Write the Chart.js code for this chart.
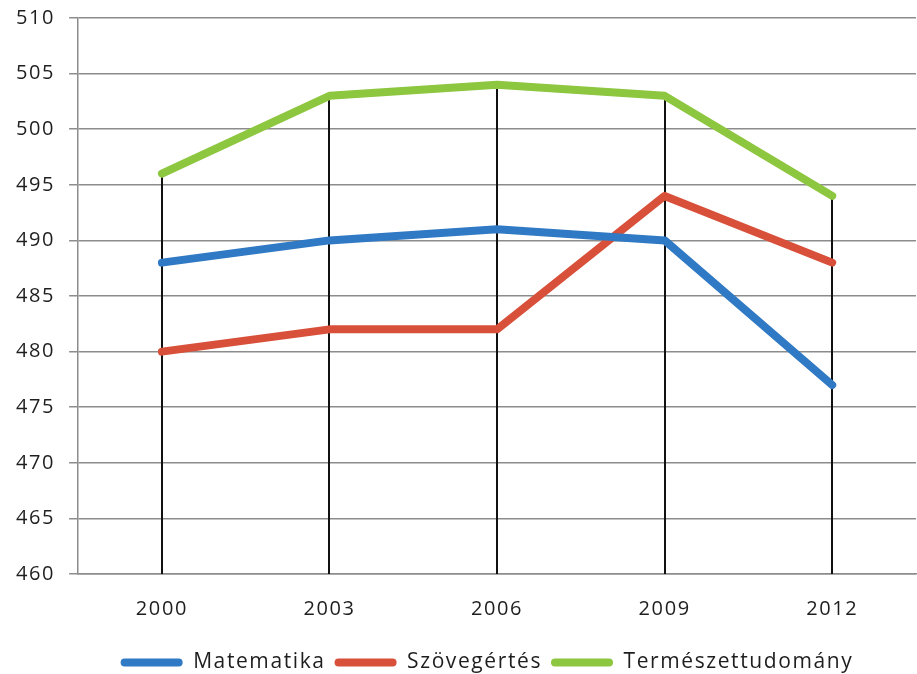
<!DOCTYPE html>
<html>
<head>
<meta charset="utf-8">
<script src="https://cdn.jsdelivr.net/npm/chart.js@4/dist/chart.umd.min.js"></script>
<style>
  html, body { margin: 0; padding: 0; background: #ffffff; }
  #wrap { width: 917px; height: 674px; }
</style>
</head>
<body>
<div id="wrap"><canvas id="c" width="917" height="674"></canvas></div>
<script>
// PISA-eredmények évenként
const years = ['2000', '2003', '2006', '2009', '2012'];
const matematika = [488, 490, 491, 490, 477];
const szovegertes = [480, 482, 482, 494, 488];
const termeszettudomany = [496, 503, 504, 503, 494];
const yTicks = [460, 465, 470, 475, 480, 485, 490, 495, 500, 505, 510];

const seriesColors = {
  matematika: '#3079c4',
  szovegertes: '#d8503a',
  termeszettudomany: '#8dc63f'
};

// Függőleges vetítővonalak a legmagasabb ponttól a tengelyig
const dropLines = {
  id: 'dropLines',
  beforeDatasetsDraw(chart) {
    const { ctx, chartArea, scales } = chart;
    const x = scales.x, y = scales.y;
    ctx.save();
    ctx.strokeStyle = '#111111';
    ctx.lineWidth = 2;
    years.forEach((_, i) => {
      const top = Math.max(...chart.data.datasets.map(d => d.data[i]));
      const px = Math.round(x.getPixelForValue(i));
      ctx.beginPath();
      ctx.moveTo(px, y.getPixelForValue(top));
      ctx.lineTo(px, chartArea.bottom);
      ctx.stroke();
    });
    ctx.restore();
  }
};

// Ritkított betűköz; a jelmagyarázat kissé jobbra és lejjebb tolva
const spacing = {
  id: 'spacing',
  beforeInit(chart) { chart.ctx.letterSpacing = '1.6px'; },
  beforeUpdate(chart) { chart.ctx.letterSpacing = '1.6px'; },
  beforeDraw(chart) { chart.ctx.letterSpacing = '1.6px'; },
  afterLayout(chart) {
    const lg = chart.legend;
    if (lg) {
      lg.left += 28; lg.right += 28;
      lg.top += 9; lg.bottom += 9;
    }
  }
};

const font = { family: '"Open Sans", Lato, sans-serif', size: 20 };

new Chart(document.getElementById('c'), {
  type: 'line',
  data: {
    labels: years,
    datasets: [
      { label: 'Matematika', data: matematika, borderColor: seriesColors.matematika, backgroundColor: seriesColors.matematika },
      { label: 'Szövegértés', data: szovegertes, borderColor: seriesColors.szovegertes, backgroundColor: seriesColors.szovegertes },
      { label: 'Természettudomány', data: termeszettudomany, borderColor: seriesColors.termeszettudomany, backgroundColor: seriesColors.termeszettudomany }
    ]
  },
  options: {
    responsive: false,
    animation: false,
    devicePixelRatio: 1,
    layout: { padding: { left: 2, right: 1, top: 0, bottom: 0 } },
    elements: {
      line: { borderWidth: 8, tension: 0, borderCapStyle: 'round', borderJoinStyle: 'round' },
      point: { radius: 0, hoverRadius: 0 }
    },
    scales: {
      x: {
        offset: true,
        afterFit(axis) { axis.height -= 10; },
        grid: { display: false, drawTicks: false },
        border: { display: true, color: '#8c8c8c', width: 1.5 },
        ticks: { color: '#1e1e1e', font: font, padding: 23 }
      },
      y: {
        min: 460,
        max: 510,
        afterBuildTicks(axis) { axis.ticks = yTicks.map(v => ({ value: v })); },
        afterFit(axis) { axis.paddingTop = 18; axis.paddingBottom = 0; },
        grid: { color: '#8c8c8c', lineWidth: 1.5, tickLength: 9, drawTicks: true },
        border: { display: true, color: '#8c8c8c', width: 1.5 },
        ticks: { color: '#1e1e1e', font: font, padding: 14 }
      }
    },
    plugins: {
      legend: {
        position: 'bottom',
        labels: {
          color: '#1e1e1e',
          font: { family: font.family, size: 21 },
          boxWidth: 62,
          boxHeight: 8,
          padding: 9,
          generateLabels(chart) {
            return chart.data.datasets.map((d, i) => ({
              text: d.label,
              fillStyle: d.borderColor,
              strokeStyle: d.borderColor,
              lineWidth: 0,
              borderRadius: 4,
              datasetIndex: i,
              fontColor: '#1e1e1e'
            }));
          }
        }
      },
      tooltip: { enabled: false }
    }
  },
  plugins: [dropLines, spacing]
});
</script>
</body>
</html>
